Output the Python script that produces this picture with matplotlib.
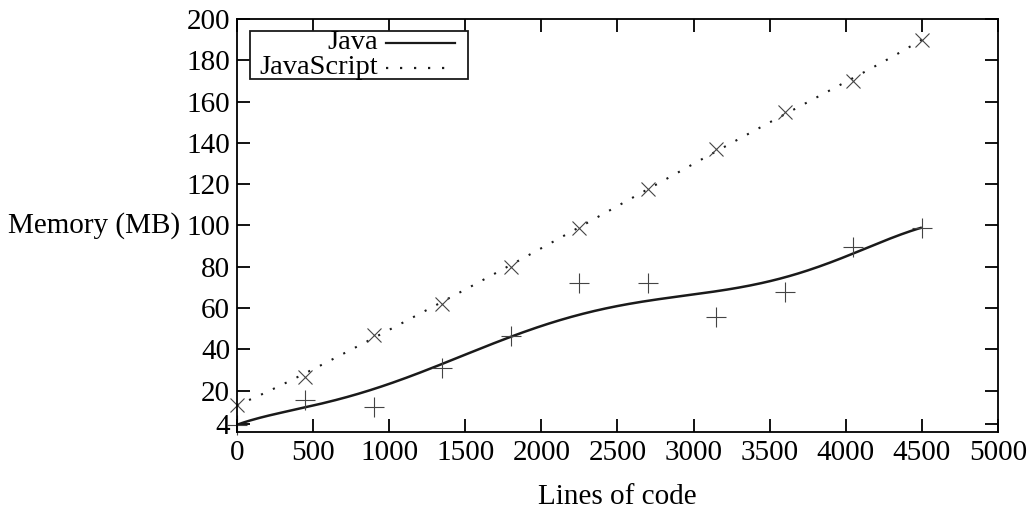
import numpy as np
import matplotlib
matplotlib.use('Agg')
import matplotlib.pyplot as plt
from math import comb

plt.rcParams['font.family'] = ['Liberation Serif', 'DejaVu Serif']
plt.rcParams['font.size'] = 21

# data
lines_of_code = [0, 450, 900, 1350, 1800, 2250, 2700, 3150, 3600, 4050, 4500]
java_mb = [3.5, 15.5, 12, 31, 46.5, 72, 72, 55.6, 68, 89.5, 99]
js_mb = [13, 26.5, 47, 62, 80, 99, 117.5, 137, 155, 170, 190]

yticks = [4, 20, 40, 60, 80, 100, 120, 140, 160, 180, 200]
xticks = [0, 500, 1000, 1500, 2000, 2500, 3000, 3500, 4000, 4500, 5000]


def bezier(x, y, n=300):
    # same as gnuplot "smooth bezier"
    x = np.asarray(x, float)
    y = np.asarray(y, float)
    k = len(x) - 1
    t = np.linspace(0, 1, n)
    bx = np.zeros(n)
    by = np.zeros(n)
    for i in range(k + 1):
        b = comb(k, i) * t**i * (1 - t)**(k - i)
        bx += b * x[i]
        by += b * y[i]
    return bx, by


fig = plt.figure(figsize=(10.33, 5.12), dpi=100)
ax = fig.add_axes([0.2294, 0.15625, 0.9661 - 0.2294, 0.9629 - 0.15625])

jx, jy = bezier(lines_of_code, java_mb)
sx, sy = bezier(lines_of_code, js_mb)
ax.plot(jx, jy, color='#1a1a1a', lw=1.8, solid_capstyle='butt')
ax.plot(sx, sy, color='#1a1a1a', lw=1.5, linestyle=(0, (1, 5.3)))
ax.plot(lines_of_code, java_mb, linestyle='none', marker='+', ms=14,
        mew=0.8, color='#444444', clip_on=False)
ax.plot(lines_of_code, js_mb, linestyle='none', marker='x', ms=10,
        mew=0.8, color='#444444', clip_on=False)

ax.set_xlim(0, 5000)
ax.set_ylim(0, 200)
ax.set_xticks(xticks)
ax.set_yticks(yticks)
ax.tick_params(direction='in', length=9.5, width=1.3, top=True, right=True,
               labelsize=21)
ax.tick_params(axis='x', pad=6)
ax.tick_params(axis='y', pad=5)
for s in ax.spines.values():
    s.set_linewidth(1.3)

ax.set_xlabel('Lines of code', labelpad=13)
ax.set_ylabel('Memory (MB)', rotation=0, ha='right', va='center')
ax.yaxis.set_label_coords(-0.075, 0.5)

# gnuplot style key: text right aligned, sample to the right
fx = lambda px: (px - 237) / 761.0
fy = lambda py: (432 - py) / 413.0
ax.add_patch(plt.Rectangle((fx(250), fy(79)), fx(468) - fx(250), fy(31) - fy(79),
                           transform=ax.transAxes, fill=True, fc='white',
                           ec='#1a1a1a', lw=1.3, zorder=5))
names = ['Java', 'JavaScript']
styles = ['-', (0, (1, 5.3))]
rows = [43, 68]
for name, st, r in zip(names, styles, rows):
    ax.text(fx(378), fy(r), name, transform=ax.transAxes, ha='right',
            va='center', fontsize=20.5, zorder=6)
    ax.plot([fx(386), fx(455)], [fy(r), fy(r)], transform=ax.transAxes,
            color='#1a1a1a', lw=1.6, linestyle=st, zorder=6)

fig.savefig('out.png', dpi=100)
